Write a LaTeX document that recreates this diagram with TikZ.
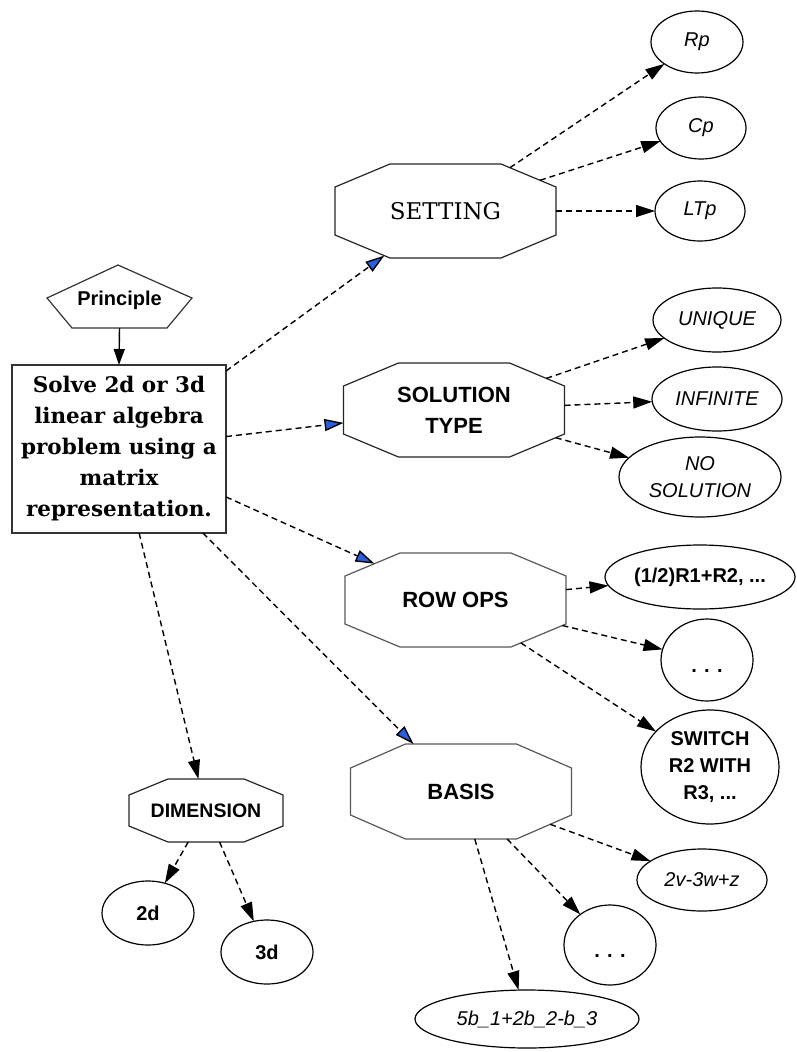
\documentclass[tikz,border=0pt]{standalone}
\usepackage{fontspec}
\setmainfont{DejaVu Serif}
\setsansfont{Liberation Sans}
\usetikzlibrary{shapes.geometric,arrows.meta}
\definecolor{ablue}{RGB}{40,95,225}
\makeatletter
\newdimen\oxa \newdimen\oya \newdimen\oxb \newdimen\oyb \newdimen\ocx \newdimen\ocy
\pgfkeys{/pgf/octo cx/.initial=10pt,/pgf/octo cy/.initial=5pt}
\pgfdeclareshape{octobox}{%
  \inheritsavedanchors[from=rectangle]%
  \inheritanchor[from=rectangle]{center}%
  \inheritanchor[from=rectangle]{north}%
  \inheritanchor[from=rectangle]{south}%
  \inheritanchor[from=rectangle]{east}%
  \inheritanchor[from=rectangle]{west}%
  \inheritanchor[from=rectangle]{north east}%
  \inheritanchor[from=rectangle]{north west}%
  \inheritanchor[from=rectangle]{south east}%
  \inheritanchor[from=rectangle]{south west}%
  \inheritanchor[from=rectangle]{text}%
  \inheritanchor[from=rectangle]{base}%
  \savedanchor\octochamfer{%
    \pgfmathsetlength\pgf@x{\pgfkeysvalueof{/pgf/octo cx}}%
    \pgfmathsetlength\pgf@y{\pgfkeysvalueof{/pgf/octo cy}}%
  }%
  \backgroundpath{%
    \southwest \oxa=\pgf@x \oya=\pgf@y
    \northeast \oxb=\pgf@x \oyb=\pgf@y
    \octochamfer \ocx=\pgf@x \ocy=\pgf@y
    \pgfpathmoveto{\pgfqpoint{\oxa}{\dimexpr\oya+\ocy\relax}}%
    \pgfpathlineto{\pgfqpoint{\dimexpr\oxa+\ocx\relax}{\oya}}%
    \pgfpathlineto{\pgfqpoint{\dimexpr\oxb-\ocx\relax}{\oya}}%
    \pgfpathlineto{\pgfqpoint{\oxb}{\dimexpr\oya+\ocy\relax}}%
    \pgfpathlineto{\pgfqpoint{\oxb}{\dimexpr\oyb-\ocy\relax}}%
    \pgfpathlineto{\pgfqpoint{\dimexpr\oxb-\ocx\relax}{\oyb}}%
    \pgfpathlineto{\pgfqpoint{\dimexpr\oxa+\ocx\relax}{\oyb}}%
    \pgfpathlineto{\pgfqpoint{\oxa}{\dimexpr\oyb-\ocy\relax}}%
    \pgfpathclose
  }%
  \anchorborder{%
    \edef\odx{\pgf@sys@tonumber\pgf@x}%
    \edef\ody{\pgf@sys@tonumber\pgf@y}%
    \southwest \oxa=\pgf@x \oya=\pgf@y
    \northeast \oxb=\pgf@x \oyb=\pgf@y
    \octochamfer \ocx=\pgf@x \ocy=\pgf@y
    \pgfmathsetmacro\oW{(\oxb-\oxa)/2}%
    \pgfmathsetmacro\oH{(\oyb-\oya)/2}%
    \pgfmathsetmacro\olen{max(veclen(\odx,\ody),0.001)}%
    \pgfmathsetmacro\oux{\odx/\olen}%
    \pgfmathsetmacro\ouy{\ody/\olen}%
    \pgfmathsetmacro\oax{max(abs(\oux),0.02)}%
    \pgfmathsetmacro\oay{max(abs(\ouy),0.02)}%
    \pgfmathsetmacro\ot{min(\oW/\oax,\oH/\oay,(\ocy*\oW+\ocx*\oH-\ocx*\ocy)/(\ocy*\oax+\ocx*\oay))}%
    \pgfmathsetlength\pgf@xa{(\oxa+\oxb)/2+\ot*\oux}%
    \pgfmathsetlength\pgf@ya{(\oya+\oyb)/2+\ot*\ouy}%
    \pgf@x=\pgf@xa \pgf@y=\pgf@ya
  }%
}
\makeatother
\begin{document}
\begin{tikzpicture}[x=1pt,y=-1pt,
  every node/.style={inner sep=0pt, outer sep=0pt, align=center},
  octo/.style={octobox, draw=black!85, line width=1.2pt, fill=white,
    minimum width=221pt, minimum height=94pt,
    /pgf/octo cx=55pt, /pgf/octo cy=23pt,
    font=\sffamily\bfseries\fontsize{22}{31}\selectfont},
  ell/.style={ellipse, draw=black, line width=1.2pt, fill=white,
    font=\sffamily\itshape\fontsize{20}{27}\selectfont},
  ellb/.style={ell, font=\sffamily\bfseries\fontsize{20}{27}\selectfont},
  dline/.style={draw=black, line width=1.4pt, dash pattern=on 6pt off 4pt,
    -{Triangle[length=19pt,width=12pt,fill=black]}},
  bline/.style={draw=black, line width=1.4pt, dash pattern=on 6pt off 4pt,
    -{Triangle[length=19pt,width=12pt,fill=ablue]}},
  sline/.style={draw=black, line width=1.4pt,
    -{Triangle[length=16pt,width=11pt,fill=black]}},
]
\useasboundingbox (0,0) rectangle (796,1052);

% root
\node (prin) at (119.5,300) [minimum width=145pt, minimum height=56pt,
  font=\sffamily\bfseries\fontsize{20}{24}\selectfont] {Principle};
\draw[black!80, line width=1.2pt] (118,265) -- (192,298) -- (167,328) -- (72,328) -- (47,298) -- cycle;

\node (box) at (119,449) [draw=black!80, line width=1.2pt, fill=white,
  minimum width=214pt, minimum height=168pt,
  font=\bfseries\fontsize{21.5}{31}\selectfont]
  {Solve 2d or 3d\\linear algebra\\problem using a\\matrix\\representation.};

% octagons
\node (set) at (445.5,211) [octo, font=\fontsize{23}{31}\selectfont] {SETTING};
\node (sol) at (454,410) [octo] {SOLUTION\\TYPE};
\node (row) at (455.5,600) [octo, draw=black!65] {ROW OPS};
\node (bas) at (461,791.5) [octo, draw=black!65, minimum height=95pt, /pgf/octo cy=24pt] {BASIS};
\node (dim) at (206,810.5) [octo, minimum width=154pt, minimum height=63pt,
  /pgf/octo cx=39pt, /pgf/octo cy=16pt,
  font=\sffamily\bfseries\fontsize{19.5}{24}\selectfont] {DIMENSION};

% leaves
\node (rp)  at (697,42)  [ell, minimum width=92pt,  minimum height=62pt] {Rp};
\node (cp)  at (701,128) [ell, minimum width=90pt,  minimum height=62pt] {Cp};
\node (ltp) at (700,211) [ell, minimum width=90pt,  minimum height=60pt] {LTp};
\node (uni) at (717,320) [ell, minimum width=128pt, minimum height=64pt] {UNIQUE};
\node (inf) at (717,399) [ell, minimum width=130pt, minimum height=64pt] {INFINITE};
\node (nos) at (700,477) [ell, minimum width=162pt, minimum height=80pt] {NO\\SOLUTION};
\node (half) at (700,577) [ellb, minimum width=190pt, minimum height=64pt] {(1/2)R1+R2, ...};
\node (dots1) at (707,660) [ellb, minimum width=92pt, minimum height=82pt] {\smash{\raisebox{-12pt}{. . .}}};
\node (sw) at (710,767) [ellb, minimum width=138pt, minimum height=114pt] {SWITCH\\R2 WITH\\R3, ...};
\node (v) at (702,880) [ell, minimum width=130pt, minimum height=62pt] {2v-3w+z};
\node (dots2) at (610,945) [ellb, minimum width=92pt, minimum height=80pt] {\smash{\raisebox{-12pt}{. . .}}};
\node (b) at (527,1019) [ell, minimum width=224pt, minimum height=58pt] {5b\_1+2b\_2-b\_3};
\node (d2) at (148,913) [ellb, minimum width=92pt, minimum height=64pt] {2d};
\node (d3) at (267,952) [ellb, minimum width=92pt, minimum height=64pt] {3d};

% connectors
\draw[sline] (prin.south) -- (box.north);
\draw[bline] (box) -- (set);
\draw[bline] (box) -- (sol);
\draw[bline] (box) -- (row);
\draw[bline] (box) -- (bas);
\draw[dline] (box) -- (dim);
\draw[dline] (set) -- (rp);
\draw[dline] (set) -- (cp);
\draw[dline] (set) -- (ltp);
\draw[dline] (sol) -- (uni);
\draw[dline] (sol) -- (inf);
\draw[dline] (sol) -- (nos);
\draw[dline] (row) -- (half);
\draw[dline] (row) -- (dots1);
\draw[dline] (row) -- (sw);
\draw[dline] (bas) -- (v);
\draw[dline] (bas) -- (dots2);
\draw[dline] (bas) -- (b);
\draw[dline] (dim) -- (d2);
\draw[dline] (dim) -- (d3);
\end{tikzpicture}
\end{document}
